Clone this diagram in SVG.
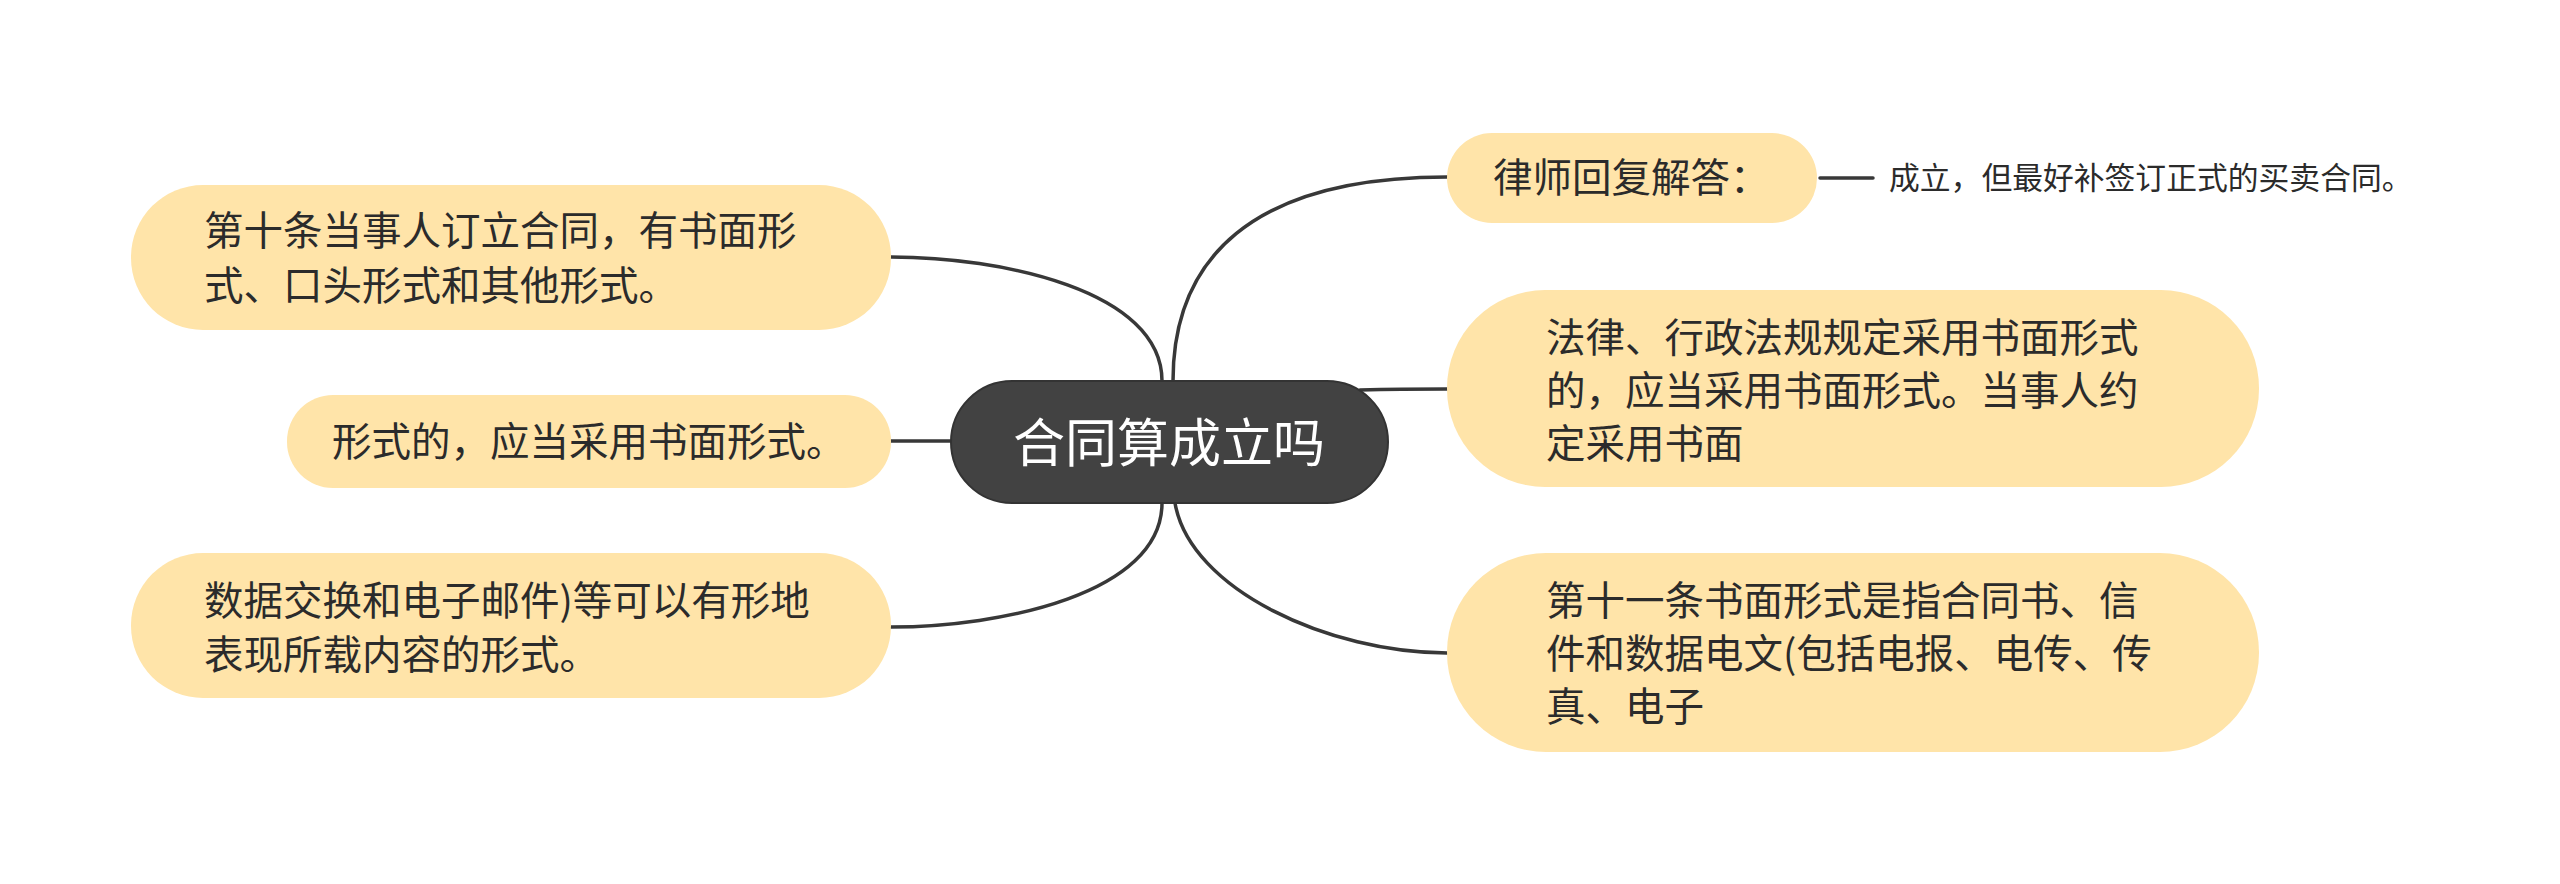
<svg xmlns="http://www.w3.org/2000/svg" width="2560" height="884" viewBox="0 0 2560 884">
<style>
.node{fill:#FFE4A9;}
.t{font-family:"Noto Sans CJK SC","Noto Sans",sans-serif;font-size:39.5px;fill:#2b2b2b;}
.small{font-size:30.8px;}
.center{fill:#424242;stroke:#333333;stroke-width:2;}
.ct{font-family:"Noto Sans CJK SC","Noto Sans",sans-serif;font-size:52px;fill:#ffffff;text-anchor:middle;}
.edge{fill:none;stroke:#383838;stroke-width:3.5;stroke-linecap:round;}
</style>
<rect width="2560" height="884" fill="#ffffff"/>
<g id="connectors">
<path class="edge" d="M891,257 C1000,257 1162,290 1162,381"/>
<path class="edge" d="M891,441 L952,441"/>
<path class="edge" d="M891,627 C1000,627 1162,594 1162,503"/>
<path class="edge" d="M1447,177 C1250,177 1173,260 1173,381"/>
<path class="edge" d="M1360,390 C1400,389 1420,389 1447,389"/>
<path class="edge" d="M1175,503 C1190,590 1330,653 1447,653"/>
<path class="edge" d="M1820,178 L1873,178"/>
</g>
<g id="root">
<rect class="center" x="951" y="381" width="437" height="122" rx="61"/>
<text class="ct" x="1169" y="462">合同算成立吗</text>
</g>
<g id="n-lawyer">
<rect class="node" x="1447" y="133" width="370" height="90" rx="45"/>
<text class="t" x="1493" y="192">律师回复解答：</text>
</g>
<g id="n-answer">
<text class="t small" x="1889" y="189">成立，但最好补签订正式的买卖合同。</text>
</g>
<g id="n-right2">
<rect class="node" x="1447" y="290" width="812" height="197" rx="98"/>
<text class="t" x="1546" y="352">法律、行政法规规定采用书面形式</text>
<text class="t" x="1546" y="405">的，应当采用书面形式。当事人约</text>
<text class="t" x="1546" y="458">定采用书面</text>
</g>
<g id="n-right3">
<rect class="node" x="1447" y="553" width="812" height="199" rx="99"/>
<text class="t" x="1546" y="615">第十一条书面形式是指合同书、信</text>
<text class="t" x="1546" y="668">件和数据电文(包括电报、电传、传</text>
<text class="t" x="1546" y="721">真、电子</text>
</g>
<g id="n-left1">
<rect class="node" x="131" y="185" width="760" height="145" rx="72"/>
<text class="t" x="204" y="245">第十条当事人订立合同，有书面形</text>
<text class="t" x="204" y="300">式、口头形式和其他形式。</text>
</g>
<g id="n-left2">
<rect class="node" x="287" y="395" width="604" height="93" rx="46"/>
<text class="t" x="332" y="456">形式的，应当采用书面形式。</text>
</g>
<g id="n-left3">
<rect class="node" x="131" y="553" width="760" height="145" rx="72"/>
<text class="t" x="204" y="615">数据交换和电子邮件)等可以有形地</text>
<text class="t" x="204" y="669">表现所载内容的形式。</text>
</g>
</svg>
